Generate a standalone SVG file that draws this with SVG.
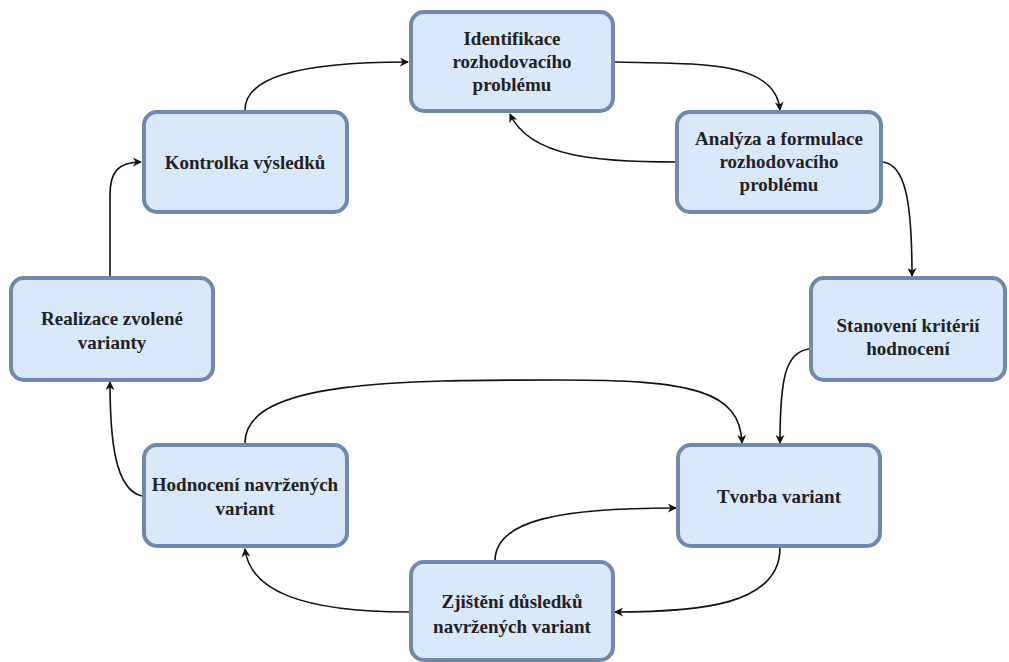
<svg xmlns="http://www.w3.org/2000/svg" width="1009" height="662" viewBox="0 0 1009 662">
<style>
.box{fill:#dae8fc;stroke:#7088aa;stroke-width:4}
.t{font-weight:bold;font-size:19px;fill:#222;text-anchor:middle}
.c{fill:none;stroke:#111;stroke-width:1.6}
</style>
<defs>
<marker id="a" viewBox="0 0 10 10" refX="9" refY="5" markerWidth="9" markerHeight="9" markerUnits="userSpaceOnUse" orient="auto">
<path d="M0,0 L10,5 L0,10 L3,5 Z" fill="#111"/>
</marker>
</defs>
<rect width="1009" height="662" fill="#fff"/>
<g id="connectors">
<path class="c" marker-end="url(#a)" d="M245,110 C245,80 290,62 408,62"/>
<path class="c" marker-end="url(#a)" d="M614,62 C700,64 775,60 780,110"/>
<path class="c" marker-end="url(#a)" d="M676,162 C600,162 530,158 510,114"/>
<path class="c" marker-end="url(#a)" d="M883,162 C905,165 912,200 912,276"/>
<path class="c" marker-end="url(#a)" d="M809,349 C785,352 780,380 780,443"/>
<path class="c" marker-end="url(#a)" d="M245,443 C245,380 400,380 560,380 C690,380 740,390 742,443"/>
<path class="c" marker-end="url(#a)" d="M780,548 C780,605 700,612 615,612"/>
<path class="c" marker-end="url(#a)" d="M495,561 C495,520 560,508 676,508"/>
<path class="c" marker-end="url(#a)" d="M409,612 C300,612 250,590 245,549"/>
<path class="c" marker-end="url(#a)" d="M142,496 C115,490 110,440 110,382"/>
<path class="c" marker-end="url(#a)" d="M110,277 L110,195 C110,172 118,162 141,162"/>
</g>
<g font-family="Liberation Serif, Times New Roman, serif">
<g id="n1"><rect class="box" x="411" y="12" width="202" height="99" rx="13"/>
<text class="t" x="512" y="45">Identifikace</text><text class="t" x="512" y="68">rozhodovacího</text><text class="t" x="512" y="91">problému</text></g>
<g id="n2"><rect class="box" x="677" y="112" width="204" height="100" rx="13"/>
<text class="t" x="779" y="145">Analýza a formulace</text><text class="t" x="779" y="168">rozhodovacího</text><text class="t" x="779" y="191">problému</text></g>
<g id="n3"><rect class="box" x="811" y="278" width="194" height="102" rx="13"/>
<text class="t" x="908" y="332">Stanovení kritérií</text><text class="t" x="908" y="355">hodnocení</text></g>
<g id="n4"><rect class="box" x="678" y="445" width="202" height="101" rx="13"/>
<text class="t" x="779" y="503">Tvorba variant</text></g>
<g id="n5"><rect class="box" x="411" y="562" width="202" height="98" rx="13"/>
<text class="t" x="512" y="608">Zjištění důsledků</text><text class="t" x="512" y="633">navržených variant</text></g>
<g id="n6"><rect class="box" x="144" y="445" width="203" height="101" rx="13"/>
<text class="t" x="245" y="491">Hodnocení navržených</text><text class="t" x="245" y="515">variant</text></g>
<g id="n7"><rect class="box" x="11" y="278" width="202" height="102" rx="13"/>
<text class="t" x="112" y="325">Realizace zvolené</text><text class="t" x="112" y="349">varianty</text></g>
<g id="n8"><rect class="box" x="144" y="112" width="203" height="100" rx="13"/>
<text class="t" x="245" y="169">Kontrolka výsledků</text></g>
</g>
</svg>
